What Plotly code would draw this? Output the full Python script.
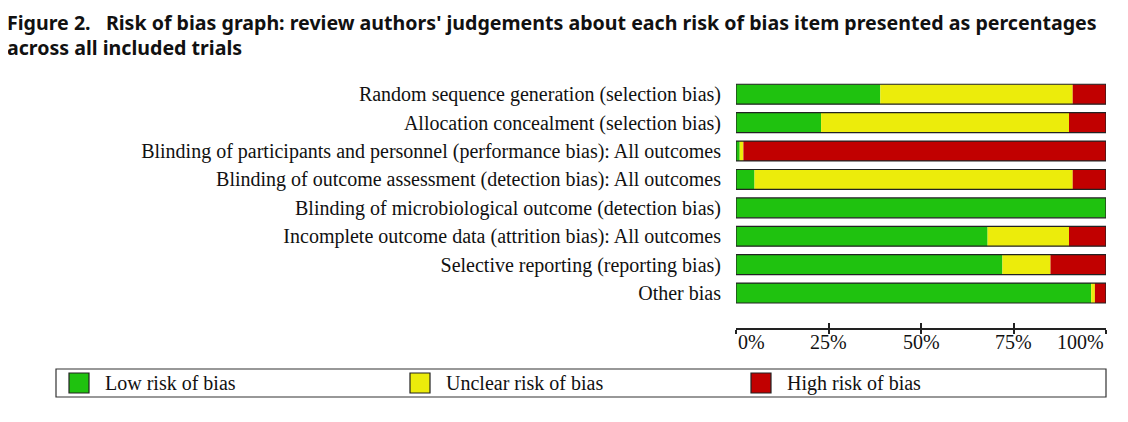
import plotly.graph_objects as go

# Risk of bias judgements, percent of included trials
items = [
    "Random sequence generation (selection bias)",
    "Allocation concealment (selection bias)",
    "Blinding of participants and personnel (performance bias): All outcomes",
    "Blinding of outcome assessment (detection bias): All outcomes",
    "Blinding of microbiological outcome (detection bias)",
    "Incomplete outcome data (attrition bias): All outcomes",
    "Selective reporting (reporting bias)",
    "Other bias",
]
low = [39, 23, 1, 5, 100, 68, 72, 96]
unclear = [52, 67, 1, 86, 0, 22, 13, 1]
high = [9, 10, 98, 9, 0, 10, 15, 3]

tick_vals = [0, 25, 50, 75, 100]
tick_labels = ["0%", "25%", "50%", "75%", "100%"]

GREEN = "#1fc20f"
YELLOW = "#ecec0b"
RED = "#c10000"
SERIF = "Liberation Serif, Times New Roman, serif"
SANS = "Noto Sans, Open Sans, sans-serif"
FS = 20

rows = list(range(len(items)))
base_unclear = [l for l in low]
base_high = [l + u for l, u in zip(low, unclear)]
total = [l + u + h for l, u, h in zip(low, unclear, high)]

fig = go.Figure()
for name, vals, base, col in [
    ("Low risk of bias", low, [0] * len(low), GREEN),
    ("Unclear risk of bias", unclear, base_unclear, YELLOW),
    ("High risk of bias", high, base_high, RED),
]:
    fig.add_trace(go.Bar(y=rows, x=vals, base=base, orientation="h", name=name,
                         marker=dict(color=col, line=dict(width=0)),
                         width=0.7, showlegend=False))

# outer outline of each bar
fig.add_trace(go.Bar(y=rows, x=total, base=[0] * len(total), orientation="h",
                     marker=dict(color="rgba(0,0,0,0)", line=dict(color="#222", width=1.2)),
                     width=0.7, showlegend=False, hoverinfo="skip"))

# the page has an 8px body margin, so the figure is 8px smaller each way
fig.update_layout(
    width=1120, height=414,
    margin=dict(l=728, r=22, t=72, b=94),
    barmode="overlay",
    plot_bgcolor="white", paper_bgcolor="white",
    font=dict(family=SERIF, size=FS, color="#111"),
    xaxis=dict(range=[0, 100], tickvals=tick_vals, showticklabels=False,
               ticks="outside", ticklen=4, tickwidth=1.5, tickcolor="#222",
               showline=True, linecolor="#222", linewidth=1.5,
               showgrid=False, zeroline=False, fixedrange=True),
    xaxis2=dict(range=[0, 100], tickvals=tick_vals, showticklabels=False,
                overlaying="x", anchor="y", side="bottom",
                ticks="inside", ticklen=5, tickwidth=1.5, tickcolor="#222",
                showline=False, showgrid=False, zeroline=False),
    yaxis=dict(range=[8.23, -0.5], tickvals=rows, ticktext=items,
               ticklabelstandoff=14, showgrid=False, zeroline=False,
               showline=False, fixedrange=True),
)
# invisible trace so the second tick set is drawn
fig.add_trace(go.Scatter(x=[0], y=[0], xaxis="x2", mode="markers",
                         marker=dict(opacity=0), showlegend=False, hoverinfo="skip"))

# tick labels: end labels pulled inward like the original
for v, t in zip(tick_vals, tick_labels):
    anchor = "left" if v == tick_vals[0] else ("right" if v == tick_vals[-1] else "center")
    fig.add_annotation(x=v, y=0, xref="x", yref="paper", yshift=-1, text=t,
                       showarrow=False, xanchor=anchor, yanchor="top",
                       font=dict(family=SERIF, size=FS, color="#111"))

# helpers: page pixels -> paper coords
px = lambda p: (p - 736) / 370
py = lambda p: (328 - p) / 248

fig.add_annotation(
    x=px(6), y=py(8), xref="paper", yref="paper", borderpad=0,
    text="<b>Figure 2.   Risk of bias graph: review authors' judgements about each risk of bias item presented as percentages<br>across all included trials</b>",
    showarrow=False, xanchor="left", yanchor="top", align="left",
    font=dict(family=SANS, size=19.6, color="#111"))

# legend box
fig.add_shape(type="rect", xref="paper", yref="paper",
              x0=px(56), x1=px(1106), y0=py(369), y1=py(397),
              line=dict(color="#333", width=1.2), fillcolor="white")
for name, col, sx in [("Low risk of bias", GREEN, 69),
                      ("Unclear risk of bias", YELLOW, 410),
                      ("High risk of bias", RED, 751)]:
    fig.add_shape(type="rect", xref="paper", yref="paper",
                  x0=px(sx), x1=px(sx + 20), y0=py(373), y1=py(393),
                  line=dict(color="#222", width=1.2), fillcolor=col)
    fig.add_annotation(x=px(sx + 34), y=py(383), xref="paper", yref="paper",
                       text=name, showarrow=False, xanchor="left", yanchor="middle",
                       font=dict(family=SERIF, size=FS, color="#111"))

fig.write_html("out.html")
